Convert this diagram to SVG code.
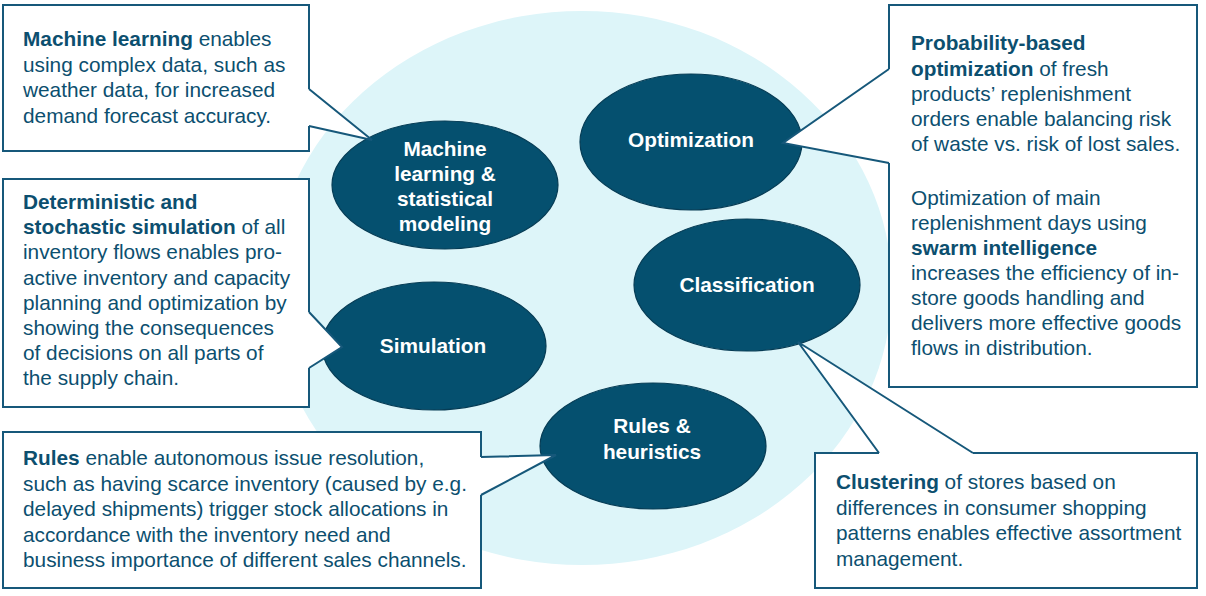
<svg xmlns="http://www.w3.org/2000/svg" width="1206" height="596" viewBox="0 0 1206 596">
<style>
.bg{fill:#ddf5f9}
.ell{fill:#05506f;stroke:#063c55;stroke-width:1.2}
.el{font-family:"Liberation Sans",Arial,sans-serif;font-weight:bold;font-size:20.8px;fill:#ffffff;text-anchor:middle}
.box{fill:#ffffff;stroke:#16587a;stroke-width:2}
.tx{font-family:"Liberation Sans",Arial,sans-serif;font-size:20.8px;fill:#0c4f6f}
.b{font-weight:bold}
.pf{fill:#ffffff;stroke:none}
.pl{fill:none;stroke:#16587a;stroke-width:2;stroke-linejoin:miter}
</style>
<rect width="1206" height="596" fill="#ffffff"/>
<ellipse class="bg" cx="582" cy="288" rx="310" ry="277"/>

<g id="ml">
<ellipse class="ell" cx="445" cy="185" rx="113" ry="64"/>
<text class="el"><tspan x="445" y="156">Machine</tspan><tspan x="445" y="181">learning &amp;</tspan><tspan x="445" y="206">statistical</tspan><tspan x="445" y="231">modeling</tspan></text>
</g>
<g id="optimization">
<ellipse class="ell" cx="691" cy="142" rx="111" ry="68"/>
<text class="el" x="691" y="147">Optimization</text>
</g>
<g id="classification">
<ellipse class="ell" cx="747" cy="285" rx="113" ry="66"/>
<text class="el" x="747" y="292">Classification</text>
</g>
<g id="simulation">
<ellipse class="ell" cx="434" cy="346" rx="112" ry="64"/>
<text class="el" x="433" y="353">Simulation</text>
</g>
<g id="rules">
<ellipse class="ell" cx="653" cy="446" rx="113" ry="63"/>
<text class="el"><tspan x="652" y="433">Rules &amp;</tspan><tspan x="652" y="459">heuristics</tspan></text>
</g>

<g id="box-ml">
<rect class="box" x="3" y="5" width="306" height="146"/>
<text class="tx"><tspan x="23" y="46"><tspan class="b">Machine learning</tspan> enables</tspan><tspan x="23" y="71.5">using complex data, such as</tspan><tspan x="23" y="97">weather data, for increased</tspan><tspan x="23" y="122.5">demand forecast accuracy.</tspan></text>
</g>
<g id="box-simulation">
<rect class="box" x="3" y="179" width="306" height="228"/>
<text class="tx"><tspan x="23" y="209" class="b">Deterministic and</tspan><tspan x="23" y="234.2"><tspan class="b">stochastic simulation</tspan> of all</tspan><tspan x="23" y="259.4">inventory flows enables pro-</tspan><tspan x="23" y="284.6">active inventory and capacity</tspan><tspan x="23" y="309.8">planning and optimization by</tspan><tspan x="23" y="335">showing the consequences</tspan><tspan x="23" y="360.2">of decisions on all parts of</tspan><tspan x="23" y="385.4">the supply chain.</tspan></text>
</g>
<g id="box-rules">
<rect class="box" x="3" y="432" width="478" height="156"/>
<text class="tx"><tspan x="23" y="465"><tspan class="b">Rules</tspan> enable autonomous issue resolution,</tspan><tspan x="23" y="490.5">such as having scarce inventory (caused by e.g.</tspan><tspan x="23" y="516">delayed shipments) trigger stock allocations in</tspan><tspan x="23" y="541.5">accordance with the inventory need and</tspan><tspan x="23" y="567">business importance of different sales channels.</tspan></text>
</g>
<g id="box-optimization">
<rect class="box" x="889" y="5" width="308" height="382"/>
<text class="tx"><tspan x="911" y="50" class="b">Probability-based</tspan><tspan x="911" y="75.5"><tspan class="b">optimization</tspan> of fresh</tspan><tspan x="911" y="100.5">products’ replenishment</tspan><tspan x="911" y="125.5">orders enable balancing risk</tspan><tspan x="911" y="150.5">of waste vs. risk of lost sales.</tspan><tspan x="911" y="205">Optimization of main</tspan><tspan x="911" y="230">replenishment days using</tspan><tspan x="911" y="255" class="b">swarm intelligence</tspan><tspan x="911" y="280">increases the efficiency of in-</tspan><tspan x="911" y="305">store goods handling and</tspan><tspan x="911" y="330">delivers more effective goods</tspan><tspan x="911" y="355">flows in distribution.</tspan></text>
</g>
<g id="box-clustering">
<rect class="box" x="815" y="453" width="382" height="135"/>
<text class="tx"><tspan x="836" y="489"><tspan class="b">Clustering</tspan> of stores based on</tspan><tspan x="836" y="514.5">differences in consumer shopping</tspan><tspan x="836" y="540">patterns enables effective assortment</tspan><tspan x="836" y="565.5">management.</tspan></text>
</g>

<g id="connectors">
<polygon class="pf" points="306,89 309,89 372,140 309,126 306,126"/>
<polyline class="pl" points="309,89 372,140 309,126"/>
<polygon class="pf" points="892,69 889,69 783,143 889,163 892,163"/>
<polyline class="pl" points="889,69 783,143 889,163"/>
<polygon class="pf" points="306,312 309,312 342,347 309,368 306,368"/>
<polyline class="pl" points="309,312 342,347 309,368"/>
<polygon class="pf" points="478,457 481,457 556,455 481,495 478,495"/>
<polyline class="pl" points="481,457 556,455 481,495"/>
<polygon class="pf" points="879,456 879,453 798,342 973,453 973,456"/>
<polyline class="pl" points="879,453 798,342 973,453"/>
</g>
</svg>
